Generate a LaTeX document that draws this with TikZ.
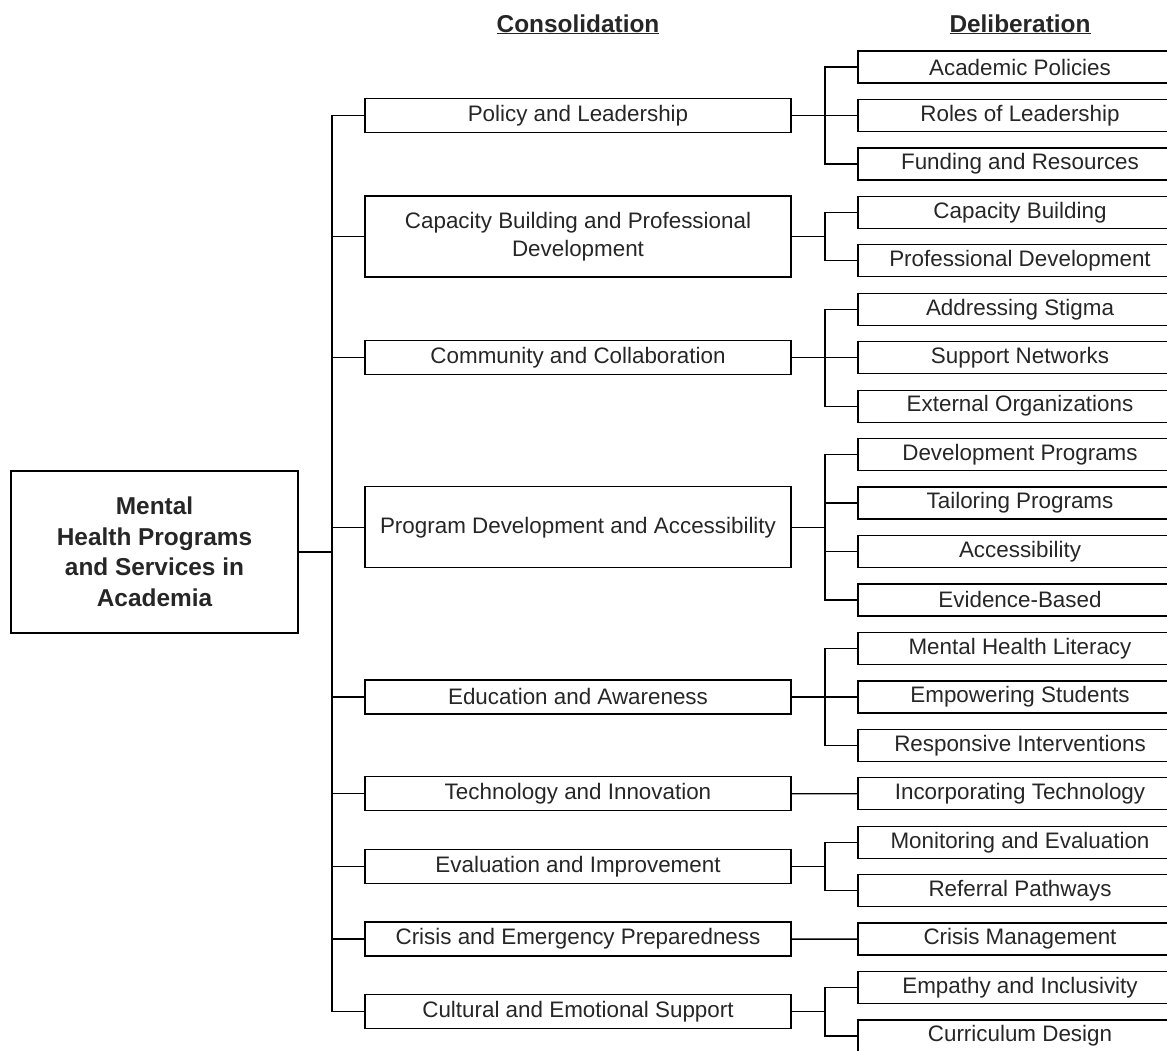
\documentclass[tikz,border=0pt]{standalone}
\usepackage{fontspec}
\setmainfont{Liberation Sans}
\usetikzlibrary{positioning}

\begin{document}
\begin{tikzpicture}[x=1pt,y=-1pt,line width=1.3pt,node distance=16.45pt,
	every node/.style={font=\fontsize{22.4}{28}\selectfont,text=black!85},
	hub/.style={draw,minimum width=287pt,minimum height=162pt,align=center,outer sep=0pt,
		font=\fontsize{24.4}{30.5}\selectfont\bfseries},
	theme/.style={draw,minimum width=426pt,minimum height=34pt,inner sep=0pt,outer sep=0pt,align=center},
	tall/.style={theme,minimum height=81pt},
	topic/.style={draw,minimum width=324pt,minimum height=32pt,inner sep=0pt,outer sep=0pt},
	head/.style={anchor=base,font=\fontsize{24.4}{30}\selectfont\bfseries},
	elbow/.style={to path={-| (\tikztotarget)}}]

\useasboundingbox (0,0) rectangle (1167,1050);

% column headings
\node[head] (hcons) at (578,32) {\underline{Consolidation}};
\node[head] (hdelib) at (1020,32) {\underline{Deliberation}};

% root
\node[hub] (root) at (154.5,552) {Mental\\Health Programs\\and Services in\\Academia};

% consolidation
\node[theme] (pol)  at (578,115.45) {Policy and Leadership};
\node[tall]  (cap)  at (578,236.6)  {Capacity Building and Professional\\Development};
\node[theme] (com)  at (578,357.7)  {Community and Collaboration};
\node[tall]  (prog) at (578,527.3)  {Program Development and Accessibility};
\node[theme] (edu)  at (578,696.85) {Education and Awareness};
\node[theme] (tech) at (578,793.75) {Technology and Innovation};
\node[theme] (eval) at (578,866.4)  {Evaluation and Improvement};
\node[theme] (cris) at (578,939.1)  {Crisis and Emergency Preparedness};
\node[theme] (cult) at (578,1011.8) {Cultural and Emotional Support};

% deliberation
\node[topic] (acad) at (1020,67)     {Academic Policies};
\node[topic] (roles)[below=of acad]  {Roles of Leadership};
\node[topic] (fund) [below=of roles] {Funding and Resources};
\node[topic] (capb) [below=of fund]  {Capacity Building};
\node[topic] (prof) [below=of capb]  {Professional Development};
\node[topic] (stig) [below=of prof]  {Addressing Stigma};
\node[topic] (netw) [below=of stig]  {Support Networks};
\node[topic] (ext)  [below=of netw]  {External Organizations};
\node[topic] (devp) [below=of ext]   {Development Programs};
\node[topic] (tail) [below=of devp]  {Tailoring Programs};
\node[topic] (acc)  [below=of tail]  {Accessibility};
\node[topic] (evid) [below=of acc]   {Evidence-Based};
\node[topic] (lit)  [below=of evid]  {Mental Health Literacy};
\node[topic] (emp)  [below=of lit]   {Empowering Students};
\node[topic] (resp) [below=of emp]   {Responsive Interventions};
\node[topic] (itech)[below=of resp]  {Incorporating Technology};
\node[topic] (mon)  [below=of itech] {Monitoring and Evaluation};
\node[topic] (ref)  [below=of mon]   {Referral Pathways};
\node[topic] (cmgt) [below=of ref]   {Crisis Management};
\node[topic] (empa) [below=of cmgt]  {Empathy and Inclusivity};
\node[topic] (curr) [below=of empa]  {Curriculum Design};

% joints
\coordinate (trunk) at (332,552);
\coordinate (polj)  at ([xshift=34pt]pol.east);
\coordinate (capj)  at ([xshift=34pt]cap.east);
\coordinate (comj)  at ([xshift=34pt]com.east);
\coordinate (progj) at ([xshift=34pt]prog.east);
\coordinate (eduj)  at ([xshift=34pt]edu.east);
\coordinate (evalj) at ([xshift=34pt]eval.east);
\coordinate (cultj) at ([xshift=34pt]cult.east);

\path (root.east) edge (trunk)
	(pol.west)  edge[elbow] (trunk)
	(cap.west)  edge[elbow] (trunk)
	(com.west)  edge[elbow] (trunk)
	(prog.west) edge[elbow] (trunk)
	(edu.west)  edge[elbow] (trunk)
	(tech.west) edge[elbow] (trunk)
	(eval.west) edge[elbow] (trunk)
	(cris.west) edge[elbow] (trunk)
	(cult.west) edge[elbow] (trunk);

\path (pol.east) edge (polj)
		(acad.west)  edge[elbow] (polj)
		(roles.west) edge[elbow] (polj)
		(fund.west)  edge[elbow] (polj)
	(cap.east) edge (capj)
		(capb.west) edge[elbow] (capj)
		(prof.west) edge[elbow] (capj)
	(com.east) edge (comj)
		(stig.west) edge[elbow] (comj)
		(netw.west) edge[elbow] (comj)
		(ext.west)  edge[elbow] (comj)
	(prog.east) edge (progj)
		(devp.west) edge[elbow] (progj)
		(tail.west) edge[elbow] (progj)
		(acc.west)  edge[elbow] (progj)
		(evid.west) edge[elbow] (progj)
	(edu.east) edge (eduj)
		(lit.west)  edge[elbow] (eduj)
		(emp.west)  edge[elbow] (eduj)
		(resp.west) edge[elbow] (eduj)
	(tech.east) edge (itech.west)
	(eval.east) edge (evalj)
		(mon.west) edge[elbow] (evalj)
		(ref.west) edge[elbow] (evalj)
	(cris.east) edge (cmgt.west)
	(cult.east) edge (cultj)
		(empa.west) edge[elbow] (cultj)
		(curr.west) edge[elbow] (cultj);

\end{tikzpicture}
\end{document}
